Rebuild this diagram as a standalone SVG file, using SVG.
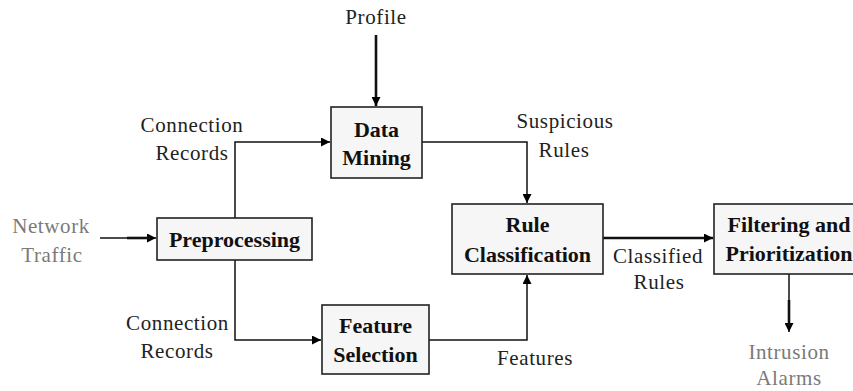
<svg xmlns="http://www.w3.org/2000/svg" width="853" height="391" viewBox="0 0 853 391">
  <defs>
    <marker id="arrow" viewBox="0 0 10 10" refX="10" refY="5" markerWidth="9" markerHeight="9" markerUnits="userSpaceOnUse" orient="auto">
      <path d="M0,0 L10,5 L0,10 z" fill="#000"/>
    </marker>
  </defs>
  <style>
    .box { fill: #f6f6f6; stroke: #222; stroke-width: 1.6; }
    .title { font-family: "Liberation Serif", "Times New Roman", serif; font-size: 22px; font-weight: bold; fill: #111; text-anchor: middle; }
    .label { font-family: "Liberation Serif", "Times New Roman", serif; font-size: 21px; letter-spacing: 0.6px; fill: #222; text-anchor: middle; }
    .grey { fill: #7a7a7a; }
    .wire { fill: none; stroke: #111; stroke-width: 1.5; }
    .thick { fill: none; stroke: #111; stroke-width: 2.6; }
  </style>

  <rect width="853" height="391" fill="#fff"/>

  <!-- connectors -->
  <g id="connectors">
    <!-- Profile into Data Mining -->
    <line class="thick" x1="376" y1="35" x2="376" y2="106" marker-end="url(#arrow)"/>
    <!-- Network Traffic into Preprocessing -->
    <line class="wire" x1="100" y1="238" x2="156" y2="238" marker-end="url(#arrow)"/>
    <line class="thick" x1="127" y1="238" x2="150" y2="238"/>
    <!-- Preprocessing to Data Mining -->
    <polyline class="wire" points="235,218 235,142 330,142" marker-end="url(#arrow)"/>
    <!-- Preprocessing to Feature Selection -->
    <polyline class="wire" points="235,260 235,340 321,340" marker-end="url(#arrow)"/>
    <!-- Data Mining to Rule Classification -->
    <polyline class="wire" points="422,142 527,142 527,203" marker-end="url(#arrow)"/>
    <!-- Feature Selection to Rule Classification -->
    <polyline class="wire" points="429,340 527,340 527,275" marker-end="url(#arrow)"/>
    <!-- Rule Classification to Filtering and Prioritization -->
    <line class="thick" x1="603" y1="238" x2="713" y2="238" marker-end="url(#arrow)"/>
    <!-- Filtering and Prioritization to Intrusion Alarms -->
    <line class="wire" x1="789" y1="274" x2="789" y2="332" marker-end="url(#arrow)"/>
    <line class="thick" x1="789" y1="300" x2="789" y2="326"/>
  </g>

  <!-- nodes -->
  <g id="data-mining">
    <rect class="box" x="331" y="107" width="91" height="71"/>
    <text class="title" x="376.5" y="137">Data</text>
    <text class="title" x="376.5" y="165">Mining</text>
  </g>
  <g id="preprocessing">
    <rect class="box" x="157" y="218" width="155" height="42"/>
    <text class="title" x="234.5" y="247">Preprocessing</text>
  </g>
  <g id="feature-selection">
    <rect class="box" x="322" y="305" width="107" height="69"/>
    <text class="title" x="375.5" y="333">Feature</text>
    <text class="title" x="375.5" y="362">Selection</text>
  </g>
  <g id="rule-classification">
    <rect class="box" x="452" y="204" width="151" height="70"/>
    <text class="title" x="527.5" y="232">Rule</text>
    <text class="title" x="527.5" y="262">Classification</text>
  </g>
  <g id="filtering-prioritization">
    <rect class="box" x="714" y="204" width="150" height="70"/>
    <text class="title" x="789" y="232">Filtering and</text>
    <text class="title" x="789" y="261">Prioritization</text>
  </g>

  <!-- labels -->
  <g id="labels">
    <text class="label" x="376" y="24">Profile</text>
    <text class="label" x="192" y="132">Connection</text>
    <text class="label" x="192" y="160">Records</text>
    <text class="label" x="565" y="128">Suspicious</text>
    <text class="label" x="564" y="157">Rules</text>
    <text class="label grey" x="51" y="233">Network</text>
    <text class="label grey" x="52" y="262">Traffic</text>
    <text class="label" x="177.5" y="330">Connection</text>
    <text class="label" x="177" y="358">Records</text>
    <text class="label" x="658" y="263">Classified</text>
    <text class="label" x="659" y="289">Rules</text>
    <text class="label" x="535" y="365">Features</text>
    <text class="label grey" x="789" y="359">Intrusion</text>
    <text class="label grey" x="789" y="385">Alarms</text>
  </g>
</svg>
